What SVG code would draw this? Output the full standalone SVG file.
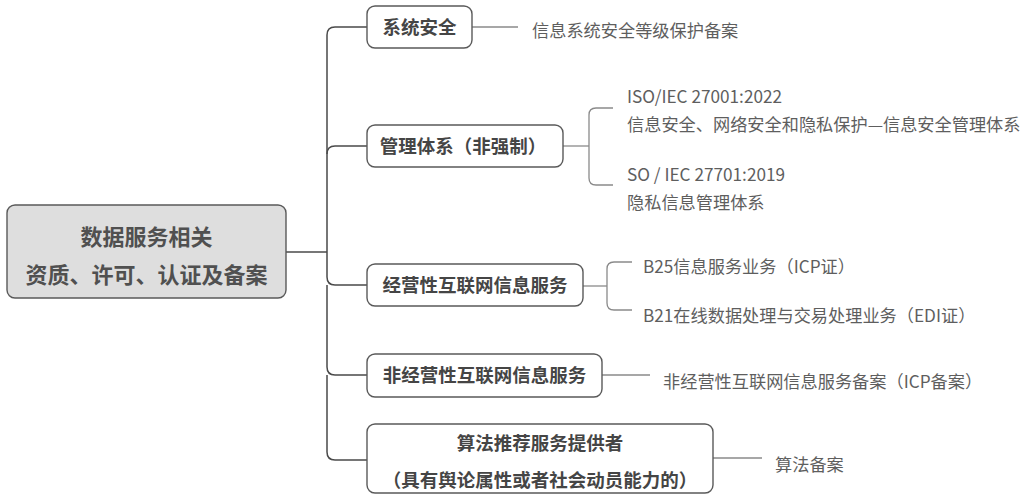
<svg xmlns="http://www.w3.org/2000/svg" width="1027" height="495" viewBox="0 0 1027 495">
<style>
.bg{fill:#ffffff}
.box{fill:#ffffff;stroke:#5a5a5a;stroke-width:1.4}
.root{fill:#dedede;stroke:#5a5a5a;stroke-width:1.4}
.main{fill:none;stroke:#4a4a4a;stroke-width:1.5}
.sub{fill:none;stroke:#8a8a8a;stroke-width:1.3}
.nt{font-family:"Noto Sans CJK SC","Noto Sans",sans-serif;font-weight:bold;font-size:18.5px;fill:#454545;text-anchor:middle}
.rt{font-family:"Noto Sans CJK SC","Noto Sans",sans-serif;font-weight:bold;font-size:22px;fill:#505050;text-anchor:middle}
.lt{font-family:"Noto Sans CJK SC","Noto Sans",sans-serif;font-size:17.2px;fill:#5e5e5e}
</style>
<rect class="bg" x="0" y="0" width="1027" height="495"/>
<g id="connectors">
<path class="main" d="M286 252 H327"/>
<path class="main" d="M367 27 H335 Q327 27 327 35 V252"/>
<path class="main" d="M367 146 H335 Q327 146 327 154"/>
<path class="main" d="M327 252 V277 Q327 285 335 285 H367"/>
<path class="main" d="M327 285 V367 Q327 375 335 375 H367"/>
<path class="main" d="M327 375 V452 Q327 460 335 460 H367"/>
<path class="sub" d="M472 27 H518"/>
<path class="sub" d="M563 146 H589"/>
<path class="sub" d="M613 108 H596 Q589 108 589 115 V178 Q589 185 596 185 H613"/>
<path class="sub" d="M583 286 H607"/>
<path class="sub" d="M632 262 H614 Q607 262 607 269 V303 Q607 310 614 310 H632"/>
<path class="sub" d="M602 375 H650"/>
<path class="sub" d="M713 458 H762"/>
</g>
<g id="root">
<rect class="root" x="7" y="205" width="279" height="93" rx="8"/>
<text class="rt" x="146.5" y="245">数据服务相关</text>
<text class="rt" x="146.5" y="283">资质、许可、认证及备案</text>
</g>
<g id="n1">
<rect class="box" x="367" y="6" width="105" height="42" rx="8"/>
<text class="nt" x="419.5" y="34">系统安全</text>
</g>
<g id="n1a"><text class="lt" x="532" y="37">信息系统安全等级保护备案</text></g>
<g id="n2">
<rect class="box" x="367" y="125" width="196" height="42" rx="8"/>
<text class="nt" x="463" y="153">管理体系（非强制）</text>
</g>
<g id="n2a">
<text class="lt" x="627" y="103">ISO/IEC 27001:2022</text>
<text class="lt" x="627" y="131">信息安全、网络安全和隐私保护—信息安全管理体系</text>
</g>
<g id="n2b">
<text class="lt" x="627" y="181">SO / IEC 27701:2019</text>
<text class="lt" x="627" y="209">隐私信息管理体系</text>
</g>
<g id="n3">
<rect class="box" x="367" y="264" width="216" height="42" rx="8"/>
<text class="nt" x="475" y="292">经营性互联网信息服务</text>
</g>
<g id="n3a"><text class="lt" x="643" y="273">B25信息服务业务（ICP证）</text></g>
<g id="n3b"><text class="lt" x="643" y="322">B21在线数据处理与交易处理业务（EDI证）</text></g>
<g id="n4">
<rect class="box" x="367" y="354" width="235" height="43" rx="8"/>
<text class="nt" x="484.5" y="382">非经营性互联网信息服务</text>
</g>
<g id="n4a"><text class="lt" x="663" y="388">非经营性互联网信息服务备案（ICP备案）</text></g>
<g id="n5">
<rect class="box" x="367" y="424" width="346" height="69" rx="8"/>
<text class="nt" x="540" y="450">算法推荐服务提供者</text>
<text class="nt" x="540" y="487">（具有舆论属性或者社会动员能力的）</text>
</g>
<g id="n5a"><text class="lt" x="775" y="471">算法备案</text></g>
</svg>
